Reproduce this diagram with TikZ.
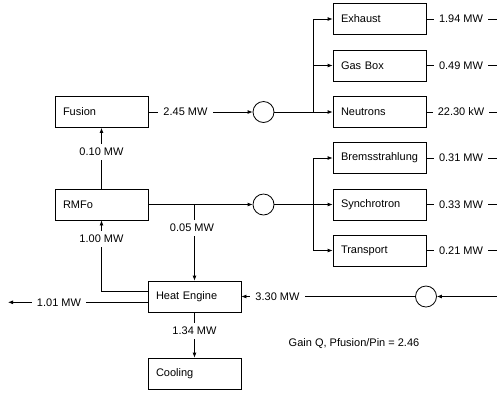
\documentclass[tikz,border=0pt]{standalone}
\usepackage{fontspec}
\setmainfont{Liberation Sans}
\usetikzlibrary{arrows.meta}
\begin{document}
\begin{tikzpicture}[x=1pt,y=-1pt,
  font=\fontsize{11}{13}\selectfont,
  line width=0.8pt,
  box/.style={draw, minimum height=31pt, text width=77pt, inner xsep=8pt, align=left},
  junc/.style={draw, circle, minimum size=21pt, inner sep=0pt},
  lbl/.style={fill=white, inner xsep=5pt, inner ysep=4pt},
  arr/.style={-{Latex[length=5pt,width=4pt]}}]
\useasboundingbox (0,0) rectangle (497,392);
% boxes
\node[box] (fusion) at (101.5,112) {Fusion};
\node[box] (rmfo) at (101.5,204.5) {RMFo};
\node[box] (heat) at (194.5,296.5) {Heat Engine};
\node[box] (cool) at (194.5,373.5) {Cooling};
\node[box] (exh) at (379.5,19) {Exhaust};
\node[box] (gas) at (379.5,65.5) {Gas Box};
\node[box] (neu) at (379.5,112) {Neutrons};
\node[box] (brem) at (379.5,158) {Bremsstrahlung};
\node[box] (syn) at (379.5,204.5) {Synchrotron};
\node[box] (tra) at (379.5,250.5) {Transport};
% junctions
\node[junc] (c1) at (263.5,112) {};
\node[junc] (c2) at (263.5,204.5) {};
\node[junc] (c3) at (426,296.5) {};
% coordinates
\coordinate (b1) at (313,112);
\coordinate (b2) at (313,204.5);
\coordinate (j) at (194.5,204.5);
\coordinate (out) at (8,302.3);
\coordinate (inR) at (497,296.5);
\coordinate (e1) at (497,19);
\coordinate (e2) at (497,65.5);
\coordinate (e3) at (497,112);
\coordinate (e4) at (497,158);
\coordinate (e5) at (497,204.5);
\coordinate (e6) at (497,250.5);
% connectors
\draw[arr] (fusion.east) -- (c1.west);
\draw[arr] (c1.east) -- (neu.west);
\draw[arr] (b1) |- (exh.west);
\draw[arr] (b1) |- (gas.west);
\draw[arr] (rmfo.east) -- (c2.west);
\draw[arr] (c2.east) -- (syn.west);
\draw[arr] (b2) |- (brem.west);
\draw[arr] (b2) |- (tra.west);
\draw[arr] (j) -- (heat.north);
\draw[arr] (rmfo.north) -- (fusion.south);
\draw[arr] ([yshift=4.8pt]heat.west) -| (rmfo.south);
\draw[arr] ([yshift=-5.8pt]heat.west) -- (out);
\draw[arr] (inR) -- (c3.east);
\draw[arr] (c3.west) -- (heat.east);
\draw[arr] (heat.south) -- (cool.north);
\draw (exh.east) -- (e1);
\draw (gas.east) -- (e2);
\draw (neu.east) -- (e3);
\draw (brem.east) -- (e4);
\draw (syn.east) -- (e5);
\draw (tra.east) -- (e6);
% labels
\node[lbl] (l1) at (185.5,112) {2.45 MW};
\node[lbl] (l2) at (101.5,152) {0.10 MW};
\node[lbl] (l3) at (192,228) {0.05 MW};
\node[lbl] (l4) at (101.5,239) {1.00 MW};
\node[lbl] (l5) at (59,302.3) {1.01 MW};
\node[lbl] (l6) at (277.5,296.5) {3.30 MW};
\node[lbl] (l7) at (194.5,331) {1.34 MW};
\node[lbl] (r1) at (461,19) {1.94 MW};
\node[lbl] (r2) at (461,65.5) {0.49 MW};
\node[lbl] (r3) at (461,112) {22.30 kW};
\node[lbl] (r4) at (461,158) {0.31 MW};
\node[lbl] (r5) at (461,204.5) {0.33 MW};
\node[lbl] (r6) at (461,250.5) {0.21 MW};
\node (gain) at (354,344) {Gain Q, Pfusion/Pin = 2.46};
\end{tikzpicture}
\end{document}
